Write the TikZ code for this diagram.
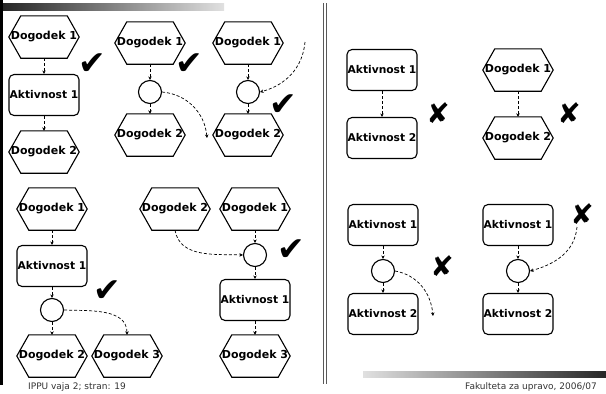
\documentclass[tikz,border=0pt]{standalone}
\usepackage{fontspec}
\setmainfont{DejaVu Sans}
\usetikzlibrary{arrows.meta}
\newcommand\hexnode[3]{%
  \node[hexa] (#1) at (#2) {#3};
  \draw[line width=1.1pt, line join=miter] (#1.west) -- ([xshift=12pt]#1.north west) -- ([xshift=-12pt]#1.north east)
    -- (#1.east) -- ([xshift=-12pt]#1.south east) -- ([xshift=12pt]#1.south west) -- cycle;}
\begin{document}
\begin{tikzpicture}[x=1pt,y=1pt,
  hexa/.style={rectangle, minimum width=70pt, minimum height=42pt, inner sep=0pt,
    font=\fontsize{11}{12}\selectfont\bfseries},
  akt/.style={rectangle, rounded corners=5pt, draw, line width=1.1pt, minimum width=70pt,
    minimum height=41pt, inner sep=0pt, font=\fontsize{10.7}{12}\selectfont\bfseries},
  conn/.style={circle, draw, line width=1.1pt, minimum size=23pt, inner sep=0pt},
  flow/.style={draw, line width=0.7pt, dash pattern=on 3pt off 2pt, -{Stealth[length=3.5pt,width=3.5pt]}},
  ok/.style={font=\fontsize{33}{33}\selectfont, inner sep=0pt},
  bad/.style={font=\fontsize{28}{28}\selectfont, inner sep=0pt},
  foot/.style={font=\fontsize{9}{11}\selectfont, text=black!80, inner sep=0pt}
]
\useasboundingbox (0,0) rectangle (606,-394);
% decoration
\fill[black] (0,0) rectangle (3,-385);
\shade[left color=black!85, right color=black!12] (3,-3) rectangle (224,-10);
\draw[black!65, line width=0.8pt] (323.5,-3) -- (323.5,-384);
\draw[black!65, line width=0.8pt] (326.5,-3) -- (326.5,-384);
\shade[left color=black!12, right color=black!85] (363,-371) rectangle (606,-377);
\node[foot, anchor=west] (f1) at (28,-387) {IPPU vaja 2; stran: 19};
\node[foot, anchor=east] (f2) at (597,-387) {Fakulteta za upravo, 2006/07};

% column 1
\hexnode{a1}{44,-37}{Dogodek 1}
\node[akt] (a2) at (44,-95) {Aktivnost 1};
\hexnode{a3}{44,-152}{Dogodek 2}
\draw[flow] (a1) -- (a2);
\draw[flow] (a2) -- (a3);
\node[ok] (ak) at (92,-64) {✔};

% column 2
\hexnode{b1}{150,-43}{Dogodek 1}
\node[conn] (b2) at (150,-92) {};
\hexnode{b3}{150,-135}{Dogodek 2}
\draw[flow] (b1) -- (b2);
\draw[flow] (b2) -- (b3);
\coordinate (be) at (207,-138);
\draw[flow] (b2.east) to[out=-5,in=95] (be);
\node[ok] (bk) at (189,-64) {✔};

% column 3
\hexnode{c1}{248,-43}{Dogodek 1}
\node[conn] (c2) at (248,-92) {};
\hexnode{c3}{248,-135}{Dogodek 2}
\draw[flow] (c1) -- (c2);
\draw[flow] (c2) -- (c3);
\coordinate (cs) at (305,-42);
\draw[flow] (cs) to[out=-95,in=15] (c2.east);
\node[ok] (ck) at (283,-105) {✔};

% bottom left
\hexnode{d1}{52,-209}{Dogodek 1}
\node[akt] (d2) at (52,-266) {Aktivnost 1};
\node[conn] (d3) at (52,-310) {};
\hexnode{d4}{52,-356}{Dogodek 2}
\hexnode{d5}{127,-356}{Dogodek 3}
\draw[flow] (d1) -- (d2);
\draw[flow] (d2) -- (d3);
\draw[flow] (d3) -- (d4);
\draw[flow] (d3.east) to[out=-2,in=90] (d5.north);
\node[ok] (dk) at (107,-291) {✔};

% bottom middle
\hexnode{e1}{175,-209}{Dogodek 2}
\hexnode{e2}{255,-209}{Dogodek 1}
\node[conn] (e3) at (255,-255) {};
\node[akt] (e4) at (255,-300) {Aktivnost 1};
\hexnode{e5}{255,-356}{Dogodek 3}
\draw[flow] (e2) -- (e3);
\draw[flow] (e3) -- (e4);
\draw[flow] (e4) -- (e5);
\draw[flow] (e1.south) to[out=-80,in=178] (e3.west);
\node[ok] (ek) at (291,-250) {✔};

% right top
\node[akt] (g1) at (382,-70) {Aktivnost 1};
\node[akt] (g2) at (382,-138) {Aktivnost 2};
\draw[flow] (g1) -- (g2);
\node[bad] (gx) at (438,-113) {✘};
\hexnode{h1}{518,-70}{Dogodek 1}
\hexnode{h2}{518,-138}{Dogodek 2}
\draw[flow] (h1) -- (h2);
\node[bad] (hx) at (569,-113) {✘};

% right bottom
\node[akt] (i1) at (383,-225) {Aktivnost 1};
\node[conn] (i2) at (383,-271) {};
\node[akt] (i3) at (383,-314) {Aktivnost 2};
\draw[flow] (i1) -- (i2);
\draw[flow] (i2) -- (i3);
\coordinate (ie) at (433,-316);
\draw[flow] (i2.east) to[out=-10,in=95] (ie);
\node[bad] (ix) at (442,-266) {✘};

\node[akt] (j1) at (518,-225) {Aktivnost 1};
\node[conn] (j2) at (518,-271) {};
\node[akt] (j3) at (518,-314) {Aktivnost 2};
\draw[flow] (j1) -- (j2);
\draw[flow] (j2) -- (j3);
\coordinate (js) at (577,-227);
\draw[flow] (js) to[out=-95,in=15] (j2.east);
\node[bad] (jx) at (582,-214) {✘};
\end{tikzpicture}
\end{document}
